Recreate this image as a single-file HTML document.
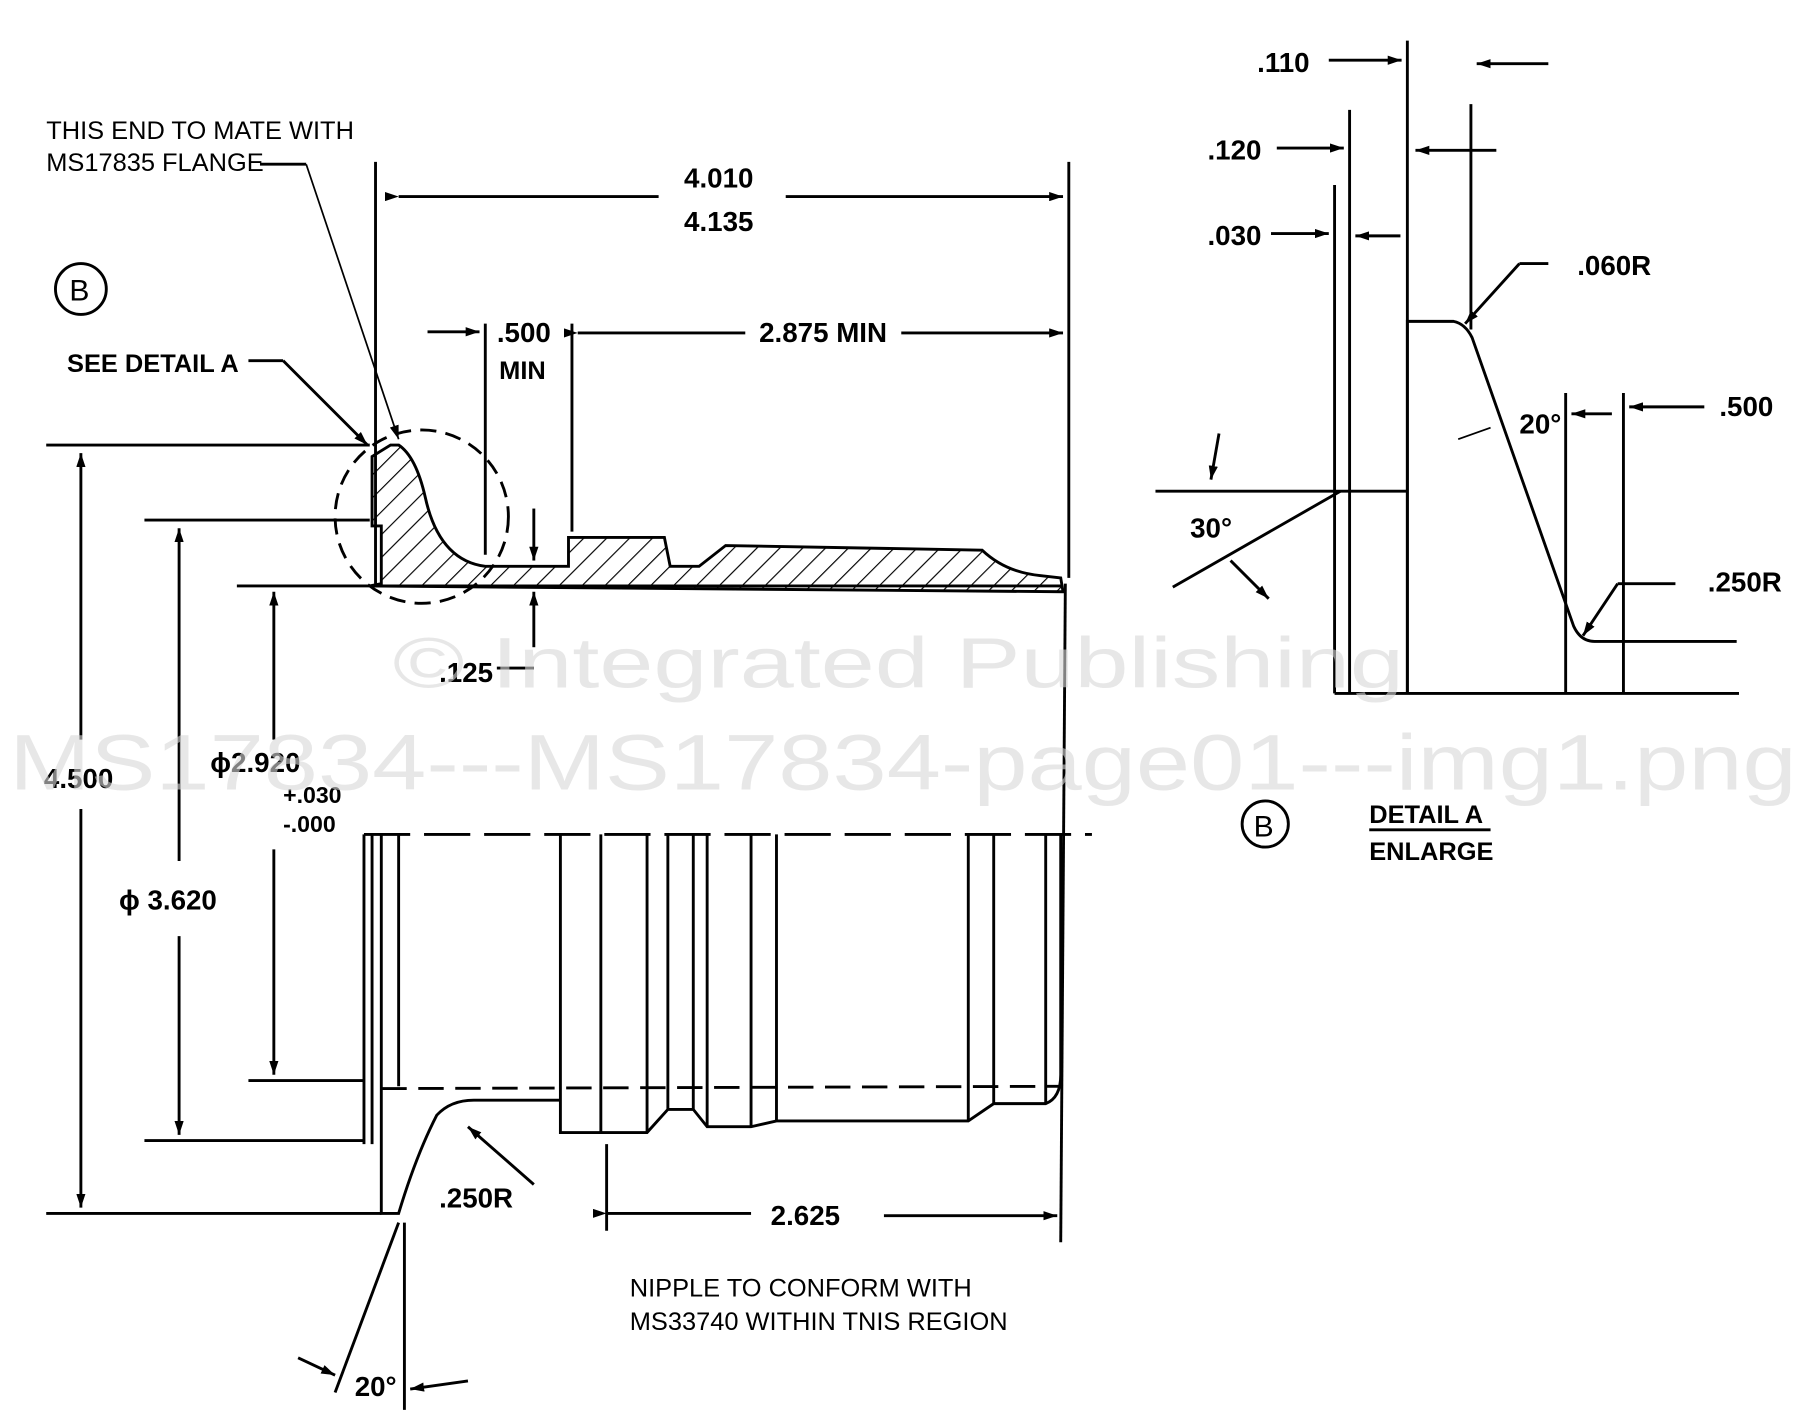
<!DOCTYPE html>
<html><head><meta charset="utf-8">
<style>
html,body{margin:0;padding:0;background:#fff;}
svg{display:block;}
text{font-family:"Liberation Sans",Arial,sans-serif;fill:#000;}
.b{font-weight:bold;}
</style></head>
<body>
<svg width="1806" height="1425" viewBox="0 0 1563 1233" xmlns="http://www.w3.org/2000/svg">
<defs>
<pattern id="h" width="14" height="14" patternUnits="userSpaceOnUse" patternTransform="rotate(45)">
<line x1="0" y1="0" x2="0" y2="14" stroke="#000" stroke-width="2"/>
</pattern>
<marker id="a" markerWidth="12" markerHeight="8" refX="12" refY="4" orient="auto" markerUnits="userSpaceOnUse" viewBox="0 0 12 8">
<path d="M0,0 L12,4 L0,8 z" fill="#000"/></marker>
</defs>
<g stroke="#000" stroke-width="2.5" fill="none">
<line x1="325" y1="140" x2="325" y2="505"/>
<line x1="925" y1="140" x2="925" y2="500"/>
<line x1="922" y1="505" x2="918" y2="1075"/>
<line x1="345" y1="170" x2="570" y2="170" marker-start="url(#a)"/>
<line x1="680" y1="170" x2="920" y2="170" marker-end="url(#a)"/>
<line x1="370" y1="287" x2="415" y2="287" marker-end="url(#a)"/>
<line x1="420" y1="280" x2="420" y2="480"/>
<line x1="495" y1="280" x2="495" y2="460"/>
<line x1="500" y1="288" x2="645" y2="288" marker-start="url(#a)"/>
<line x1="780" y1="288" x2="920" y2="288" marker-end="url(#a)"/>
<path d="M330,505 L330,455 L322,455 L322,395 L338,385 L345,385 Q360,395 368,430 Q380,485 420,490 L492,490 L492,465 L575,465 L580,490 L605,490 L628,472 L850,476 Q870,495 900,498 L918,500 L920,512 L320,507 Z" fill="url(#h)"/>
<line x1="320" y1="507" x2="920" y2="507"/>
<circle cx="365" cy="447" r="75" stroke-dasharray="14,8"/>
<line x1="315" y1="722" x2="945" y2="722" stroke-dasharray="40,12"/>
<line x1="330" y1="942" x2="920" y2="940" stroke-dasharray="22,10"/>
<path d="M315,722 L315,990 M322,722 L322,990 M330,722 L330,1050 L345,1050 Q360,1000 378,965 Q390,952 410,952 L485,952 L485,722 M485,952 L485,980 L560,980 L578,960 L600,960 L612,975 L650,975 L672,970 L838,970 L860,955 L905,955 Q918,950 918,930 L918,722"/>
<path d="M345,722 L345,940 M520,722 L520,980 M560,722 L560,980 M578,722 L578,960 M600,722 L600,960 M612,722 L612,975 M650,722 L650,975 M672,722 L672,970 M838,722 L838,970 M860,722 L860,955 M905,722 L905,955"/>
<line x1="40" y1="385" x2="320" y2="385"/>
<line x1="40" y1="1050" x2="330" y2="1050"/>
<line x1="70" y1="640" x2="70" y2="392" marker-end="url(#a)"/>
<line x1="70" y1="700" x2="70" y2="1045" marker-end="url(#a)"/>
<line x1="125" y1="450" x2="320" y2="450"/>
<line x1="125" y1="987" x2="315" y2="987"/>
<line x1="155" y1="745" x2="155" y2="457" marker-end="url(#a)"/>
<line x1="155" y1="810" x2="155" y2="982" marker-end="url(#a)"/>
<line x1="205" y1="507" x2="320" y2="507"/>
<line x1="215" y1="935" x2="315" y2="935"/>
<line x1="237" y1="640" x2="237" y2="512" marker-end="url(#a)"/>
<line x1="237" y1="735" x2="237" y2="930" marker-end="url(#a)"/>
<line x1="462" y1="440" x2="462" y2="485" marker-end="url(#a)"/>
<line x1="462" y1="560" x2="462" y2="512" marker-end="url(#a)"/>
<line x1="430" y1="578" x2="462" y2="578"/>
<line x1="225" y1="142" x2="265" y2="142"/>
<line x1="265" y1="142" x2="345" y2="380" marker-end="url(#a)" stroke-width="1.5"/>
<line x1="215" y1="312" x2="245" y2="312"/>
<line x1="245" y1="312" x2="318" y2="385" marker-end="url(#a)"/>
<line x1="462" y1="1025" x2="405" y2="975" marker-end="url(#a)"/>
<line x1="525" y1="990" x2="525" y2="1065"/>
<line x1="525" y1="1050" x2="650" y2="1050" marker-start="url(#a)"/>
<line x1="765" y1="1052" x2="915" y2="1052" marker-end="url(#a)"/>
<line x1="345" y1="1058" x2="290" y2="1205"/>
<line x1="350" y1="1058" x2="350" y2="1220"/>
<line x1="258" y1="1175" x2="290" y2="1190" marker-end="url(#a)"/>
<line x1="405" y1="1195" x2="355" y2="1202" marker-end="url(#a)"/>
<circle cx="70" cy="250" r="22" stroke-width="2.5"/>
<circle cx="1095" cy="713" r="20" stroke-width="2.5"/>
<line x1="1155" y1="160" x2="1155" y2="600"/>
<line x1="1168" y1="95" x2="1168" y2="600"/>
<line x1="1218" y1="35" x2="1218" y2="600"/>
<line x1="1273" y1="90" x2="1273" y2="285"/>
<line x1="1155" y1="600" x2="1505" y2="600"/>
<path d="M1218,600 L1218,278 L1258,278 Q1268,280 1274,292 L1362,542 Q1368,555 1380,555 L1503,555"/>
<line x1="1000" y1="425" x2="1218" y2="425"/>
<line x1="1015" y1="508" x2="1160" y2="425"/>
<line x1="1355" y1="340" x2="1355" y2="600"/>
<line x1="1405" y1="340" x2="1405" y2="600"/>
<line x1="1150" y1="52" x2="1213" y2="52" marker-end="url(#a)"/>
<line x1="1340" y1="55" x2="1278" y2="55" marker-end="url(#a)"/>
<line x1="1105" y1="128" x2="1163" y2="128" marker-end="url(#a)"/>
<line x1="1295" y1="130" x2="1225" y2="130" marker-end="url(#a)"/>
<line x1="1100" y1="202" x2="1150" y2="202" marker-end="url(#a)"/>
<line x1="1212" y1="204" x2="1173" y2="204" marker-end="url(#a)"/>
<line x1="1340" y1="228" x2="1315" y2="228"/>
<line x1="1315" y1="228" x2="1268" y2="280" marker-end="url(#a)"/>
<line x1="1450" y1="505" x2="1400" y2="505"/>
<line x1="1400" y1="505" x2="1370" y2="550" marker-end="url(#a)"/>
<line x1="1395" y1="358" x2="1360" y2="358" marker-end="url(#a)"/>
<line x1="1475" y1="352" x2="1410" y2="352" marker-end="url(#a)"/>
<line x1="1055" y1="375" x2="1048" y2="415" marker-end="url(#a)"/>
<line x1="1065" y1="485" x2="1098" y2="518" marker-end="url(#a)"/>
<line x1="1262" y1="380" x2="1290" y2="370" stroke-width="1.5"/>
<line x1="1185" y1="718" x2="1290" y2="718"/>
</g>

<text x="40" y="120" font-size="22">THIS END TO MATE WITH</text>
<text x="40" y="148" font-size="22">MS17835 FLANGE</text>
<text x="60" y="260" font-size="26">B</text>
<text x="58" y="322" font-size="22" class="b">SEE DETAIL A</text>
<text x="592" y="162" font-size="24" class="b">4.010</text>
<text x="592" y="200" font-size="24" class="b">4.135</text>
<text x="430" y="296" font-size="24" class="b">.500</text>
<text x="432" y="328" font-size="22" class="b">MIN</text>
<text x="657" y="296" font-size="24" class="b">2.875 MIN</text>
<text x="380" y="590" font-size="24" class="b">.125</text>
<text x="38" y="682" font-size="24" class="b">4.500</text>
<text x="182" y="668" font-size="24" class="b">ϕ2.920</text>
<text x="245" y="695" font-size="20" class="b">+.030</text>
<text x="245" y="720" font-size="20" class="b">-.000</text>
<text x="103" y="787" font-size="24" class="b">ϕ 3.620</text>
<text x="380" y="1045" font-size="24" class="b">.250R</text>
<text x="667" y="1060" font-size="24" class="b">2.625</text>
<text x="545" y="1122" font-size="22">NIPPLE TO CONFORM WITH</text>
<text x="545" y="1151" font-size="22">MS33740 WITHIN TNIS REGION</text>
<text x="307" y="1208" font-size="24" class="b">20°</text>
<text x="1088" y="62" font-size="24" class="b">.110</text>
<text x="1045" y="138" font-size="24" class="b">.120</text>
<text x="1045" y="212" font-size="24" class="b">.030</text>
<text x="1365" y="238" font-size="24" class="b">.060R</text>
<text x="1315" y="375" font-size="24" class="b">20°</text>
<text x="1488" y="360" font-size="24" class="b">.500</text>
<text x="1030" y="465" font-size="24" class="b">30°</text>
<text x="1478" y="512" font-size="24" class="b">.250R</text>
<text x="1085" y="724" font-size="26">B</text>
<text x="1185" y="712" font-size="22" class="b">DETAIL A</text>
<text x="1185" y="744" font-size="22" class="b">ENLARGE</text>

<text x="340" y="595" font-size="62" textLength="875" lengthAdjust="spacingAndGlyphs" style="fill:#d8d8d8" opacity="0.6">© Integrated Publishing</text>
<text x="8" y="683" font-size="68" textLength="1547" lengthAdjust="spacingAndGlyphs" style="fill:#d8d8d8" opacity="0.6">MS17834---MS17834-page01---img1.png</text>
</svg>
</body></html>
